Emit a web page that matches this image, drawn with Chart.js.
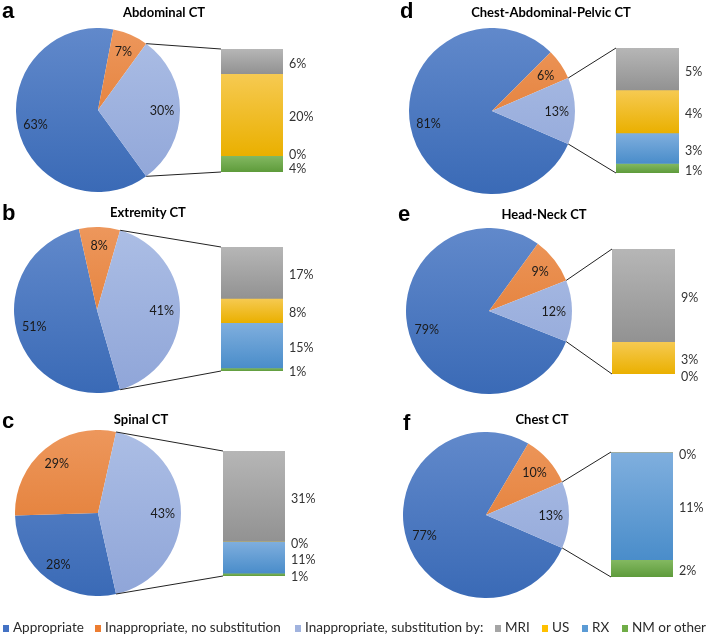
<!DOCTYPE html>
<html>
<head>
<meta charset="utf-8">
<title>CT appropriateness</title>
<script src="https://cdn.jsdelivr.net/npm/chart.js@4.4.1/dist/chart.umd.min.js"></script>
<style>
    body { margin: 0; background: #fff; }
    #fig { position: relative; width: 706px; height: 638px; overflow: hidden; }
    #fig canvas { position: absolute; }
    #overlay { position: absolute; left: 0; top: 0; pointer-events: none; }
</style>
</head>
<body>
<div id="fig">
    <svg id="overlay" width="706" height="638" xmlns="http://www.w3.org/2000/svg"></svg>
</div>
<script>
// Datos
const panelKeys = ['a', 'b', 'c', 'd', 'e', 'f'];
const panelTitles = ['Abdominal CT', 'Extremity CT', 'Spinal CT', 'Chest-Abdominal-Pelvic CT', 'Head-Neck CT', 'Chest CT'];
const pieCategories = ['Appropriate', 'Inappropriate, no substitution', 'Inappropriate, substitution by:'];
const appropriate = [63, 51, 28, 81, 79, 77];
const inappropriateNoSub = [7, 8, 29, 6, 9, 10];
const inappropriateSub = [30, 41, 43, 13, 12, 13];

// Sustitución (barra), de arriba hacia abajo
const substituteCategories = ['MRI', 'US', 'RX', 'NM or other'];
const mri = [6, 17, 31, 4.4, 8.9, 0];
const us = [20, 8, 0, 4.5, 3.1, 0];
const rx = [0, 15, 11, 3.2, 0, 11.2];
const nm = [4, 1, 1, 1.0, 0, 1.8];
// Etiquetas tal como aparecen (redondeadas en el original)
const mriLabels = ['6%', '17%', '31%', '5%', '9%', '0%'];
const usLabels = ['20%', '8%', '0%', '4%', '3%', ''];
const rxLabels = ['0%', '15%', '11%', '3%', '0%', '11%'];
const nmLabels = ['4%', '1%', '1%', '1%', '', '2%'];

// Colores
const pieColors = [['#6189cb', '#3a6ab6'], ['#ed975c', '#df7326'], ['#acbee5', '#8fa5d8']];
const pieSolid = ['#4472c4', '#ed7d31', '#a1b3de'];
const barColors = [['#b6b6b6', '#929292'], ['#f6ca52', '#eab000'], ['#80afde', '#4a8dca'], ['#84b962', '#5e9b3b']];
const barSolid = ['#a5a5a5', '#ffc000', '#5b9bd5', '#70ad47'];

// Posiciones de cada panel (centro y radio del pastel, caja de la barra)
const layout = {
    pies: [[98, 110, 82], [97, 310, 83], [98, 513, 83], [492, 111, 83], [489, 311, 83], [486, 515, 83]],
    bars: [[221, 49, 62, 123], [221, 247, 62, 124], [223, 451, 62, 125], [616, 48, 63, 125], [612, 249, 63, 125], [611, 452, 62, 125]],
    letters: [[2, 18], [2, 220], [2, 428], [400, 18], [398, 221], [403, 430]],
    titles: [[164, 17], [148, 217], [141, 424], [551, 17], [544, 219], [542, 424]],
    legend: [3, 95, 295, 495, 542, 582, 622]
};

const FONT = 'Lato, "Open Sans", sans-serif';
const fig = document.getElementById('fig');
const svg = document.getElementById('overlay');
const SVGNS = 'http://www.w3.org/2000/svg';

function svgEl(tag, attrs, text) {
    const el = document.createElementNS(SVGNS, tag);
    Object.keys(attrs).forEach(k => el.setAttribute(k, attrs[k]));
    if (text !== undefined) el.textContent = text;
    svg.appendChild(el);
    return el;
}

function vGrad(ctx, top, bottom, c1, c2) {
    const g = ctx.createLinearGradient(0, top, 0, bottom);
    g.addColorStop(0, c1);
    g.addColorStop(1, c2);
    return g;
}

// Etiquetas de porcentaje dentro del pastel
const pieLabels = {
    id: 'pieLabels',
    afterDatasetsDraw(chart) {
        const ctx = chart.ctx;
        const meta = chart.getDatasetMeta(0);
        ctx.save();
        ctx.font = '12.5px ' + FONT;
        ctx.fillStyle = '#1a1a1a';
        ctx.textAlign = 'center';
        ctx.textBaseline = 'middle';
        meta.data.forEach((arc, j) => {
            const p = arc.getProps(['x', 'y', 'startAngle', 'endAngle', 'outerRadius'], true);
            const mid = (p.startAngle + p.endAngle) / 2;
            const rr = p.outerRadius * 0.78;
            ctx.fillText(chart.data.datasets[0].data[j] + '%', p.x + Math.cos(mid) * rr, p.y + Math.sin(mid) * rr + 1);
        });
        ctx.restore();
    }
};

// Etiquetas a la derecha de la barra, separadas si se solapan
const barLabels = {
    id: 'barLabels',
    afterDatasetsDraw(chart) {
        const ctx = chart.ctx;
        const items = [];
        chart.data.datasets.forEach((ds, k) => {
            if (!ds.labelText) return;
            const el = chart.getDatasetMeta(k).data[0];
            const top = Math.min(el.y, el.base);
            const bottom = Math.max(el.y, el.base);
            items.push({ text: ds.labelText, y: (top + bottom) / 2 + 2.5 });
        });
        const gap = 14;
        for (let n = 0; n < 10; n++) {
            for (let j = 1; j < items.length; j++) {
                const d = items[j].y - items[j - 1].y;
                if (d < gap) {
                    const m = (items[j].y + items[j - 1].y) / 2;
                    items[j - 1].y = m - gap / 2;
                    items[j].y = m + gap / 2;
                }
            }
        }
        ctx.save();
        ctx.font = '12.5px ' + FONT;
        ctx.fillStyle = '#333';
        ctx.textAlign = 'left';
        ctx.textBaseline = 'middle';
        items.forEach(it => ctx.fillText(it.text, chart.chartArea.right + 6, it.y));
        ctx.restore();
    }
};

const subValues = [mri, us, rx, nm];
const subLabels = [mriLabels, usLabels, rxLabels, nmLabels];
const pieCharts = [];
const barCharts = [];

panelKeys.forEach((key, i) => {
    // Pastel
    const [cx, cy, r] = layout.pies[i];
    const pc = document.createElement('canvas');
    pc.width = 2 * r;
    pc.height = 2 * r;
    pc.style.left = (cx - r) + 'px';
    pc.style.top = (cy - r) + 'px';
    fig.insertBefore(pc, svg);

    const L = inappropriateSub[i];
    pieCharts.push(new Chart(pc, {
        type: 'pie',
        data: {
            labels: pieCategories,
            datasets: [{
                data: [appropriate[i], inappropriateNoSub[i], L],
                backgroundColor: (c) => {
                    const a = c.chart.chartArea;
                    const pair = pieColors[c.dataIndex];
                    if (!a) return pieSolid[c.dataIndex];
                    return vGrad(c.chart.ctx, a.top, a.bottom, pair[0], pair[1]);
                },
                borderWidth: 0,
                hoverOffset: 0
            }]
        },
        options: {
            responsive: false,
            animation: false,
            events: [],
            // la porción "substitution" queda centrada a la derecha
            rotation: 90 + L * 1.8,
            layout: { padding: 0 },
            plugins: { legend: { display: false }, tooltip: { enabled: false } }
        },
        plugins: [pieLabels]
    }));

    // Barra apilada
    const [bx, by, bw, bh] = layout.bars[i];
    const padR = 50, padV = 12;
    const bc = document.createElement('canvas');
    bc.width = bw + padR;
    bc.height = bh + 2 * padV;
    bc.style.left = bx + 'px';
    bc.style.top = (by - padV) + 'px';
    fig.insertBefore(bc, svg);

    const total = subValues.reduce((s, arr) => s + arr[i], 0);
    barCharts.push(new Chart(bc, {
        type: 'bar',
        data: {
            labels: [''],
            datasets: substituteCategories.map((name, k) => ({
                label: name,
                data: [subValues[k][i]],
                labelText: subLabels[k][i],
                backgroundColor: (c) => {
                    const ch = c.chart;
                    const ys = ch.scales.y;
                    if (!ch.chartArea || !ys) return barSolid[k];
                    let before = 0;
                    for (let q = 0; q < k; q++) before += subValues[q][i];
                    const t = ys.getPixelForValue(before);
                    const b = ys.getPixelForValue(before + subValues[k][i]);
                    if (!(b > t)) return barSolid[k];
                    return vGrad(ch.ctx, t, b, barColors[k][0], barColors[k][1]);
                },
                borderWidth: 0,
                barPercentage: 1,
                categoryPercentage: 1
            }))
        },
        options: {
            responsive: false,
            animation: false,
            events: [],
            layout: { padding: { left: 0, right: padR, top: padV, bottom: padV } },
            scales: {
                x: { display: false, stacked: true },
                y: { display: false, stacked: true, reverse: true, min: 0, max: total }
            },
            plugins: { legend: { display: false }, tooltip: { enabled: false } }
        },
        plugins: [barLabels]
    }));

    // Letra y título
    const [lx, ly] = layout.letters[i];
    svgEl('text', { x: lx, y: ly, 'font-family': '"Liberation Sans", Arial, sans-serif', 'font-weight': 'bold', 'font-size': 22, fill: '#000' }, key);
    const [tx, ty] = layout.titles[i];
    svgEl('text', { x: tx, y: ty, 'text-anchor': 'middle', 'font-family': FONT, 'font-weight': 'bold', 'font-size': 13, fill: '#000' }, panelTitles[i]);
});

// Líneas de conexión entre la porción y la barra
panelKeys.forEach((key, i) => {
    const pc = pieCharts[i].canvas;
    const arc = pieCharts[i].getDatasetMeta(0).data[2];
    const p = arc.getProps(['x', 'y', 'startAngle', 'endAngle', 'outerRadius'], true);
    const ox = pc.offsetLeft, oy = pc.offsetTop;
    const p1 = [ox + p.x + Math.cos(p.startAngle) * p.outerRadius, oy + p.y + Math.sin(p.startAngle) * p.outerRadius];
    const p2 = [ox + p.x + Math.cos(p.endAngle) * p.outerRadius, oy + p.y + Math.sin(p.endAngle) * p.outerRadius];
    const bch = barCharts[i];
    const ba = bch.chartArea;
    const bxl = bch.canvas.offsetLeft + ba.left;
    const byt = bch.canvas.offsetTop + ba.top;
    const byb = bch.canvas.offsetTop + ba.bottom;
    svgEl('line', { x1: p1[0], y1: p1[1], x2: bxl, y2: byt, stroke: '#222', 'stroke-width': 1 });
    svgEl('line', { x1: p2[0], y1: p2[1], x2: bxl, y2: byb, stroke: '#222', 'stroke-width': 1 });
});

// Leyenda inferior
const legendNames = pieCategories.concat(substituteCategories);
const legendColors = pieSolid.concat(barSolid);
legendNames.forEach((name, j) => {
    const x = layout.legend[j];
    svgEl('rect', { x: x, y: 625, width: 6, height: 7, fill: legendColors[j] });
    svgEl('text', { x: x + 10, y: 632, 'font-family': FONT, 'font-size': 13.5, fill: '#2a2a2a' }, name);
});
</script>
</body>
</html>
